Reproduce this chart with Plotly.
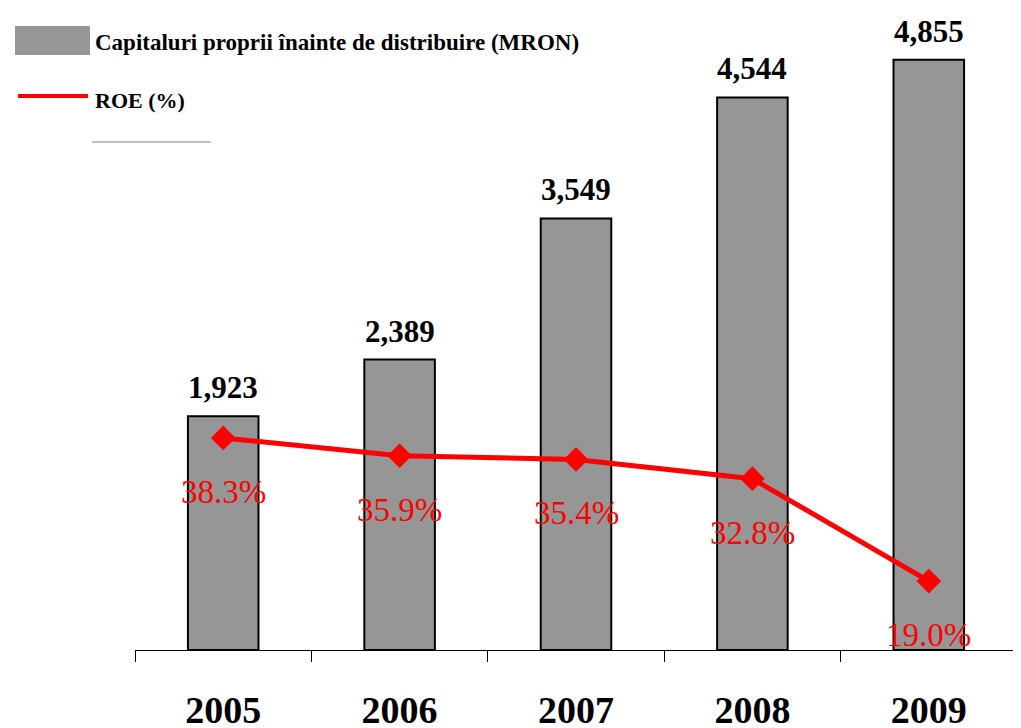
import plotly.graph_objects as go

# Date
ani = ["2005", "2006", "2007", "2008", "2009"]
capitaluri = [1923, 2389, 3549, 4544, 4855]
roe = [38.3, 35.9, 35.4, 32.8, 19.0]
etichete_cap = ["1,923", "2,389", "3,549", "4,544", "4,855"]
etichete_roe = ["38.3%", "35.9%", "35.4%", "32.8%", "19.0%"]

SERIF = "Liberation Serif, Times New Roman, serif"
GRI = "#969696"
ROSU = "#ff0000"

fig = go.Figure()

# Bare capitaluri proprii
fig.add_trace(go.Bar(
    x=ani, y=capitaluri,
    width=0.4,
    marker=dict(color=GRI, line=dict(color="black", width=2)),
    showlegend=False,
))

# Linia ROE pe axa secundara
fig.add_trace(go.Scatter(
    x=ani, y=roe, yaxis="y2",
    mode="lines+markers",
    line=dict(color=ROSU, width=5),
    marker=dict(symbol="diamond", size=19, color=ROSU),
    cliponaxis=False,
    showlegend=False,
))

# Etichete valori (x = indexul categoriei)
for i, (v, t) in enumerate(zip(capitaluri, etichete_cap)):
    fig.add_annotation(
        x=i, y=v, xref="x", yref="y", text=f"<b>{t}</b>", showarrow=False,
        yanchor="bottom", yshift=9,
        font=dict(family=SERIF, size=31, color="black"),
    )

for i, (v, t) in enumerate(zip(roe, etichete_roe)):
    fig.add_annotation(
        x=i, y=v, xref="x", yref="y2", text=t, showarrow=False,
        yshift=-54, font=dict(family=SERIF, size=33, color=ROSU),
    )

# Legenda desenata manual (coordonate in pixeli ai paginii)
def py(px):
    return (650 - px) / 608

def pxx(px):
    return (px - 135) / 882

fig.add_shape(type="rect", xref="paper", yref="paper",
              x0=pxx(15), x1=pxx(90), y0=py(55), y1=py(26),
              fillcolor=GRI, line=dict(width=0))
fig.add_shape(type="line", xref="paper", yref="paper",
              x0=pxx(18), x1=pxx(88), y0=py(96), y1=py(96),
              line=dict(color=ROSU, width=4))
fig.add_shape(type="line", xref="paper", yref="paper",
              x0=pxx(92), x1=pxx(211), y0=py(142), y1=py(142),
              line=dict(color="#c0c0c0", width=2))
fig.add_annotation(xref="paper", yref="paper", x=pxx(93), y=py(42),
                   xanchor="left", yanchor="middle", showarrow=False,
                   text="<b>Capitaluri proprii înainte de distribuire (MRON)</b>",
                   font=dict(family=SERIF, size=23, color="black"))
fig.add_annotation(xref="paper", yref="paper", x=pxx(93), y=py(101),
                   xanchor="left", yanchor="middle", showarrow=False,
                   text="<b>ROE (%)</b>",
                   font=dict(family=SERIF, size=22, color="black"))

# pagina are margine de 8px, deci figura e mutata cu 8px
fig.update_layout(
    width=1013, height=720,
    margin=dict(l=127, r=4, t=34, b=78),
    paper_bgcolor="white", plot_bgcolor="white",
    xaxis=dict(
        type="category", range=[-0.5, 4.5], automargin=False,
        showline=True, linecolor="black", linewidth=1,
        ticks="outside", tickson="boundaries", ticklen=11, tickcolor="black",
        ticklabelstandoff=26, tickangle=0,
        tickfont=dict(family=SERIF, size=38, color="black", weight="bold"),
        showgrid=False,
    ),
    yaxis=dict(range=[0, 5000], visible=False, showgrid=False, zeroline=False),
    yaxis2=dict(range=[9.7, 91.7], overlaying="y", side="right",
                visible=False, showgrid=False, zeroline=False),
)

fig.write_html("out.html")
